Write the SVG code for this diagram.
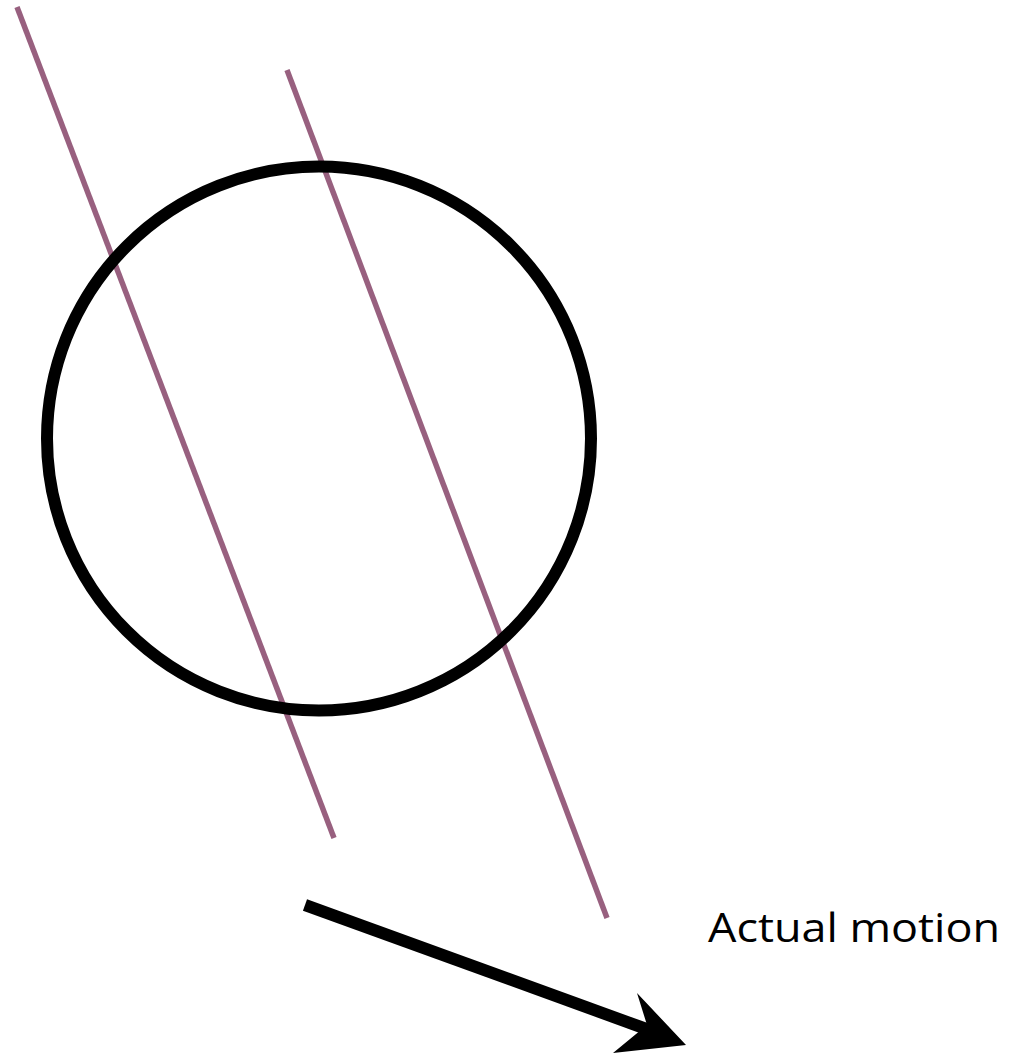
<svg xmlns="http://www.w3.org/2000/svg" width="1012" height="1055" viewBox="0 0 1012 1055">
<style>
.ln{stroke:#98607f;stroke-width:5.5;fill:none}
.lbl{font-family:"Open Sans","Noto Sans",sans-serif;font-size:41px;fill:#000}
</style>
<rect width="1012" height="1055" fill="#fff"/>
<g id="connectors">
<line class="ln" x1="17" y1="7" x2="334" y2="838"/>
<line class="ln" x1="287" y1="70" x2="607" y2="918"/>
<line x1="305" y1="905" x2="652" y2="1031" stroke="#000" stroke-width="12"/>
<polygon points="686,1045 613,1053 647,1025 637,993" fill="#000"/>
</g>
<g id="circle">
<circle cx="319" cy="438.5" r="272" fill="none" stroke="#000" stroke-width="12"/>
</g>
<g id="label">
<text class="lbl" x="708" y="942" textLength="292" lengthAdjust="spacingAndGlyphs">Actual motion</text>
</g>
</svg>
